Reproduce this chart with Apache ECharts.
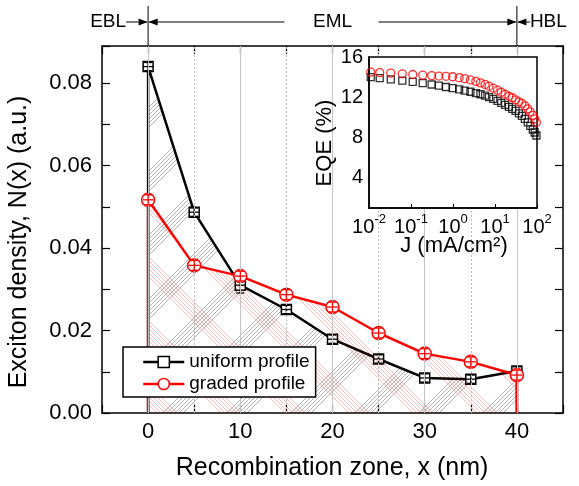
<!DOCTYPE html>
<html>
<head>
<meta charset="utf-8">
<script src="https://cdn.jsdelivr.net/npm/echarts@6/dist/echarts.min.js"></script>
<style>
  html, body { margin: 0; padding: 0; background: #fff; }
  #chart { width: 579px; height: 486px; }
</style>
</head>
<body>
<div id="chart"></div>
<script>
// ---- Exciton density across the recombination zone ----
const positions = [0, 5, 10, 15, 20, 25, 30, 35, 40];
const uniformDensity = [0.0840, 0.0487, 0.0310, 0.0251, 0.0179, 0.0131, 0.0085, 0.0082, 0.0102];
const uniformErr     = [0.0010, 0.0010, 0.0019, 0.0010, 0.0010, 0.0010, 0.0010, 0.0010, 0.0010];
const gradedDensity  = [0.0517, 0.0358, 0.0332, 0.0287, 0.0257, 0.0194, 0.0144, 0.0124, 0.0092];
const gradedErr      = [0.0012, 0.0012, 0.0012, 0.0012, 0.0012, 0.0012, 0.0012, 0.0012, 0.0012];
const positionErr    = [0.6, 0.6, 0.6, 0.6, 0.6, 0.6, 0.6, 0.6, 0.6];
const xMajorTicks = [0, 10, 20, 30, 40];
const xMinorTicks = [5, 15, 25, 35];
const layerNames = ['EBL', 'EML', 'HBL'];

// ---- EQE roll-off (inset) ----
const currentDensity = [0.011, 0.018, 0.033, 0.062, 0.11, 0.19, 0.31, 0.46, 0.68, 0.98,
  1.4, 1.9, 2.6, 3.5, 4.5, 5.8, 7.2, 9.1, 11.5, 14.1, 17.4, 21.4, 25.7, 30.9, 37.2,
  43.7, 51.3, 60.3, 69.2, 79.4, 88, 97];
const eqeUniform = [14.0, 13.9, 13.78, 13.65, 13.52, 13.4, 13.27, 13.15, 13.02, 12.9,
  12.78, 12.66, 12.55, 12.42, 12.3, 12.16, 12.02, 11.85, 11.65, 11.45, 11.25, 11.05, 10.85, 10.65, 10.4,
  10.15, 9.85, 9.5, 9.15, 8.8, 8.5, 8.2];
const eqeGraded = [14.5, 14.45, 14.4, 14.33, 14.26, 14.2, 14.15, 14.11, 14.08, 14.04,
  13.95, 13.85, 13.72, 13.58, 13.43, 13.28, 13.1, 12.9, 12.7, 12.5, 12.3, 12.1, 11.95, 11.75, 11.55,
  11.4, 11.15, 10.85, 10.55, 10.2, 9.85, 9.5];
const eqeLabels = [4, 8, 12, 16];
const eqeGridSolid = [4, 8, 12];
const eqeGridDotted = [2, 6, 10, 14];
const jGridSolid = [0.1, 10];
const jTurnOn = [1];

const FONT = '"Liberation Sans", Arial, Helvetica, sans-serif';
const chart = echarts.init(document.getElementById('chart'), null, { renderer: 'canvas' });

// diagonal band hatching used to fill under each profile
function hatch(color, dir) {
  const T = 64;
  const c = document.createElement('canvas');
  c.width = T; c.height = T;
  const g = c.getContext('2d');
  g.strokeStyle = color;
  g.lineWidth = 0.7;
  for (let k = -1; k <= 2; k++) {
    for (let i = 0; i < 6; i++) {
      const off = k * T + i * 4;
      g.beginPath();
      if (dir > 0) { // "/" lines: x + y = off
        g.moveTo(-T, off + T);
        g.lineTo(2 * T, off - 2 * T);
      } else {       // "\" lines: x - y = off
        g.moveTo(-T, -T - off);
        g.lineTo(2 * T, 2 * T - off);
      }
      g.stroke();
    }
  }
  return { image: c, repeat: 'repeat' };
}

// profile closed down to the baseline at both interfaces
function profile(vals) {
  const pts = positions.map((x, i) => [x, vals[i]]);
  return [{ value: [positions[0], 0], symbol: 'none' }]
    .concat(pts)
    .concat([{ value: [positions[positions.length - 1], 0], symbol: 'none' }]);
}

function errData(vals, errs) {
  return positions.map((x, i) => [x, vals[i], errs[i], positionErr[i]]);
}

function errorBars(color) {
  return function (params, api) {
    const x = api.value(0), y = api.value(1), ey = api.value(2), ex = api.value(3);
    const lo = api.coord([x, y - ey]);
    const hi = api.coord([x, y + ey]);
    const l = api.coord([x - ex, y]);
    const r = api.coord([x + ex, y]);
    const cap = 4;
    const st = { stroke: color, lineWidth: 1.3, fill: null };
    return {
      type: 'group',
      children: [
        { type: 'line', shape: { x1: lo[0], y1: lo[1], x2: hi[0], y2: hi[1] }, style: st },
        { type: 'line', shape: { x1: lo[0] - cap, y1: lo[1], x2: lo[0] + cap, y2: lo[1] }, style: st },
        { type: 'line', shape: { x1: hi[0] - cap, y1: hi[1], x2: hi[0] + cap, y2: hi[1] }, style: st },
        { type: 'line', shape: { x1: l[0], y1: l[1], x2: r[0], y2: r[1] }, style: st }
      ]
    };
  };
}

const axisBlack = { show: true, onZero: false, lineStyle: { color: '#000', width: 1.5 } };
const tickIn = { show: true, inside: true, length: 8, lineStyle: { color: '#000', width: 1.2 } };

const option = {
  animation: false,
  backgroundColor: '#fff',
  textStyle: { fontFamily: FONT },
  grid: [
    { left: 102, right: 16, top: 46, bottom: 73 },
    { left: 369, top: 57, width: 168, height: 151, show: true, backgroundColor: '#fff',
      borderColor: '#000', borderWidth: 1.5, zlevel: 1 }
  ],
  xAxis: [
    { type: 'value', gridIndex: 0, min: -5, max: 45, interval: 5,
      axisLine: axisBlack, axisTick: tickIn, splitLine: { show: false },
      axisLabel: { fontSize: 22, color: '#000', margin: 8, fontFamily: FONT,
        formatter: v => (xMajorTicks.indexOf(v) >= 0 ? String(v) : '') } },
    { type: 'value', gridIndex: 0, position: 'top', min: -5, max: 45, interval: 5,
      axisLine: axisBlack, axisTick: tickIn, axisLabel: { show: false }, splitLine: { show: false } },
    { type: 'log', logBase: 10, gridIndex: 1, min: 0.01, max: 100, zlevel: 1,
      axisLine: axisBlack, axisTick: { show: true, inside: true, length: 4, lineStyle: { color: '#000' } },
      splitLine: { show: false },
      axisLabel: { margin: 5, color: '#000',
        formatter: v => '{b|10}{s|' + Math.round(Math.log10(v)) + '}',
        rich: {
          b: { fontSize: 20, fontFamily: FONT, color: '#000', lineHeight: 24, verticalAlign: 'bottom' },
          s: { fontSize: 13, fontFamily: FONT, color: '#000', lineHeight: 13, verticalAlign: 'top' }
        } } }
  ],
  yAxis: [
    { type: 'value', gridIndex: 0, min: 0, max: 0.089, interval: 0.01,
      axisLine: axisBlack, axisTick: tickIn, splitLine: { show: false },
      axisLabel: { fontSize: 22, color: '#000', margin: 10, fontFamily: FONT,
        formatter: v => { const n = Math.round(v * 100); return (Math.abs(v * 100 - n) < 1e-6 && n % 2 === 0) ? v.toFixed(2) : ''; } } },
    { type: 'value', gridIndex: 0, position: 'right', min: 0, max: 0.089, interval: 0.01,
      axisLine: axisBlack, axisTick: tickIn, axisLabel: { show: false }, splitLine: { show: false } },
    { type: 'value', gridIndex: 1, min: 1, max: 16, interval: 1, zlevel: 1,
      axisLine: axisBlack, axisTick: { show: false }, splitLine: { show: false },
      axisLabel: { fontSize: 20, color: '#000', margin: 6, fontFamily: FONT,
        formatter: v => (eqeLabels.indexOf(v) >= 0 ? String(v) : '') } }
  ],
  legend: {
    data: [
      { name: 'uniform profile',
        itemStyle: { color: '#fff', borderColor: '#000', borderWidth: 1.5 },
        lineStyle: { color: '#000', width: 2.5, type: 'solid' } },
      { name: 'graded profile',
        itemStyle: { color: '#fff', borderColor: '#ff0000', borderWidth: 1.5 },
        lineStyle: { color: '#ff0000', width: 2.5, type: 'solid' } }
    ],
    orient: 'vertical', left: 123, top: 347, z: 10,
    padding: [5, 6, 3, 19], itemGap: 2, itemWidth: 41, itemHeight: 14,
    backgroundColor: '#fff', borderColor: '#000', borderWidth: 1.5, borderRadius: 0,
    selectedMode: false,
    textStyle: { fontSize: 19, color: '#000', fontFamily: FONT, lineHeight: 20 }
  },
  series: [
    // main grid lines
    { type: 'line', xAxisIndex: 0, yAxisIndex: 0, data: [], silent: true, z: 1,
      markLine: { silent: true, symbol: ['none', 'none'], label: { show: false }, animation: false,
        data: xMajorTicks.map(v => ({ xAxis: v, lineStyle: { type: 'solid', color: '#c4c4c4', width: 1 } }))
          .concat(xMinorTicks.map(v => ({ xAxis: v, lineStyle: { type: [2, 2], color: '#bdbdbd', width: 1 } }))) } },
    { name: 'uniform profile', type: 'line', xAxisIndex: 0, yAxisIndex: 0, z: 2,
      data: profile(uniformDensity), symbol: 'rect', symbolSize: 10, showAllSymbol: true,
      lineStyle: { color: '#000', width: 2.5 },
      itemStyle: { color: '#fff', borderColor: '#000', borderWidth: 1.5 },
      areaStyle: { color: hatch('rgba(0,0,0,0.42)', 1), opacity: 1 } },
    { type: 'custom', xAxisIndex: 0, yAxisIndex: 0, z: 3, data: errData(uniformDensity, uniformErr),
      encode: { x: 0, y: 1 }, renderItem: errorBars('#000'), silent: true },
    { name: 'graded profile', type: 'line', xAxisIndex: 0, yAxisIndex: 0, z: 4,
      data: profile(gradedDensity), symbol: 'circle', symbolSize: 13, showAllSymbol: true,
      lineStyle: { color: '#ff0000', width: 2.5 },
      itemStyle: { color: '#fff', borderColor: '#ff0000', borderWidth: 1.5 },
      areaStyle: { color: hatch('rgba(255,0,0,0.38)', -1), opacity: 1 } },
    { type: 'custom', xAxisIndex: 0, yAxisIndex: 0, z: 5, data: errData(gradedDensity, gradedErr),
      encode: { x: 0, y: 1 }, renderItem: errorBars('#ff0000'), silent: true },

    // inset grid lines
    { type: 'line', xAxisIndex: 2, yAxisIndex: 2, data: [], silent: true, zlevel: 1,
      markLine: { silent: true, symbol: ['none', 'none'], label: { show: false }, animation: false,
        data: eqeGridSolid.map(v => ({ yAxis: v, lineStyle: { type: 'solid', color: '#c4c4c4', width: 1 } }))
          .concat(eqeGridDotted.map(v => ({ yAxis: v, lineStyle: { type: [2, 2], color: '#bdbdbd', width: 1 } })))
          .concat(jGridSolid.map(v => ({ xAxis: v, lineStyle: { type: 'solid', color: '#c4c4c4', width: 1 } })))
          .concat(jTurnOn.map(v => ({ xAxis: v, lineStyle: { type: [6, 4], color: '#000', width: 1.5 } }))) } },
    { type: 'scatter', xAxisIndex: 2, yAxisIndex: 2, zlevel: 1,
      data: currentDensity.map((j, i) => [j, eqeUniform[i]]),
      symbol: 'rect', symbolSize: 7,
      itemStyle: { color: 'rgba(0,0,0,0)', borderColor: '#000', borderWidth: 1.3 } },
    { type: 'scatter', xAxisIndex: 2, yAxisIndex: 2, zlevel: 1,
      data: currentDensity.map((j, i) => [j, eqeGraded[i]]),
      symbol: 'circle', symbolSize: 8,
      itemStyle: { color: 'rgba(0,0,0,0)', borderColor: '#ff0000', borderWidth: 1.3 } }
  ]
};

chart.setOption(option);

// layer annotations above the plot and axis titles
const px = v => chart.convertToPixel({ xAxisIndex: 0 }, v);
const x0 = px(positions[0]);
const x1 = px(positions[positions.length - 1]);
const plotTop = chart.convertToPixel({ yAxisIndex: 0 }, 0.089);
const ay = 22;
const ink = { stroke: '#000', lineWidth: 1 };
function head(tipX, dir) {
  return { type: 'polygon', shape: { points: [[tipX, ay], [tipX - dir * 9, ay - 3.5], [tipX - dir * 9, ay + 3.5]] },
    style: { fill: '#000' } };
}
function label(txt, x, y, align, size, rot) {
  return { type: 'text', x: x, y: y, rotation: rot || 0,
    style: { text: txt, font: size + 'px ' + FONT, fill: '#000',
      align: align, verticalAlign: 'middle', textAlign: align, textVerticalAlign: 'middle' } };
}
const mid = (x0 + x1) / 2;
chart.setOption({
  graphic: [
    { type: 'line', shape: { x1: x0, y1: 6, x2: x0, y2: plotTop }, style: ink },
    { type: 'line', shape: { x1: x1, y1: 6, x2: x1, y2: plotTop }, style: ink },
    { type: 'line', shape: { x1: x0 - 22, y1: ay, x2: x0 - 1, y2: ay }, style: ink },
    head(x0 - 0.5, 1),
    { type: 'line', shape: { x1: x0 + 1, y1: ay, x2: mid - 48, y2: ay }, style: ink },
    head(x0 + 0.5, -1),
    { type: 'line', shape: { x1: mid + 46, y1: ay, x2: x1 - 1, y2: ay }, style: ink },
    head(x1 - 0.5, 1),
    { type: 'line', shape: { x1: x1 + 1, y1: ay, x2: x1 + 13, y2: ay }, style: ink },
    head(x1 + 0.5, -1),
    label(layerNames[0], x0 - 22, ay, 'right', 19),
    label(layerNames[1], mid, ay, 'center', 19),
    label(layerNames[2], x1 + 13, ay, 'left', 19),
    label('Recombination zone, x (nm)', 332, 468, 'center', 25),
    label('Exciton density, N(x) (a.u.)', 19, 242, 'center', 25, Math.PI / 2),
    { type: 'text', x: 454, y: 246, zlevel: 1,
      style: { text: 'J (mA/cm\u00B2)', font: '22px ' + FONT, fill: '#000',
        align: 'center', verticalAlign: 'middle', textAlign: 'center', textVerticalAlign: 'middle' } },
    { type: 'text', x: 325, y: 143, rotation: Math.PI / 2, zlevel: 1,
      style: { text: 'EQE (%)', font: '22px ' + FONT, fill: '#000',
        align: 'center', verticalAlign: 'middle', textAlign: 'center', textVerticalAlign: 'middle' } }
  ]
});
</script>
</body>
</html>
